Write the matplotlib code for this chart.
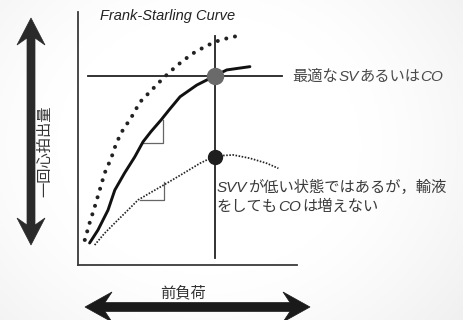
import numpy as np
import matplotlib
matplotlib.use("Agg")
import matplotlib.pyplot as plt
from matplotlib.patches import Polygon

# ---------------- data (preload 0-100, stroke volume 0-100) ----------------
solid_x = [5.3, 9.1, 13.7, 16.8, 21.3, 25.9, 29.7, 33.3, 37.9, 41.6, 46.6, 54.2, 62.6, 67.9, 78.5]
solid_y = [8.7, 13.8, 21.7, 29.6, 36.4, 42.7, 48.7, 52.7, 57.3, 61.3, 66.5, 71.1, 74.8, 77.1, 78.4]

upper_x = [3.1, 5.3, 7.6, 9.9, 12.2, 15.2, 17.5, 20.5, 24.2, 28.3, 32.9, 37.4, 42.0, 47.4,
           52.6, 58.8, 64.8, 70.9, 75.5]
upper_y = [9.9, 16.6, 22.9, 29.6, 36.4, 42.3, 48.2, 53.4, 58.1, 64.4, 68.5, 72.5, 76.4, 80.4,
           83.7, 86.7, 88.9, 90.2, 90.9]

lower_x = [7.6, 12.2, 16.8, 22.8, 27.4, 32.9, 40.5, 48.1, 55.7, 62.6, 70.9, 78.5, 86.2, 91.5]
lower_y = [7.9, 12.6, 16.6, 21.7, 25.7, 28.5, 32.3, 36.2, 40.2, 43.1, 43.5, 42.2, 40.2, 38.2]

opt_x, opt_y = 62.6, 74.8          # optimal SV / CO point
low_x, low_y = 62.6, 42.8          # low SVV point
hline_x = [4.6, 93.2]
vline_y = [2.8, 90.5]

tri1_x = [29.7, 38.8, 38.8]
tri1_y = [48.1, 48.1, 57.3]
tri2_x = [28.2, 39.3, 39.3]
tri2_y = [25.7, 25.7, 32.9]

title = "Frank-Starling Curve"
ylabel = "一回心拍出量"
xlabel = "前負荷"
label1 = [("最適な", False), ("SV", True), ("あるいは", False), ("CO", True)]
label2 = [("SVV", True), ("が低い状態ではあるが，輸液", False)]
label3 = [("をしても", False), ("CO", True), ("は増えない", False)]

W, H = 464, 320
fig = plt.figure(figsize=(W / 100, H / 100), dpi=100)

# background soft gradient
bg = fig.add_axes([0, 0, 1, 1], zorder=-10)
gx, gy = np.meshgrid(np.linspace(0, 1, 232), np.linspace(0, 1, 160))
r = np.sqrt(((gx - 0.45) / 0.6) ** 2 + ((gy - 0.45) / 0.75) ** 2)
val = 1.0 - 0.11 * np.clip(r - 0.55, 0, None) ** 1.3
bg.imshow(np.dstack([val, val, val]), extent=[0, 1, 0, 1], aspect="auto",
          interpolation="bilinear", vmin=0, vmax=1)
bg.set_axis_off()

ax = fig.add_axes([78 / W, (H - 265) / H, 219 / W, 253 / H])
ax.set_xlim(0, 100)
ax.set_ylim(0, 100)
ax.patch.set_alpha(0)
for s in ["top", "right"]:
    ax.spines[s].set_visible(False)
for s in ["left", "bottom"]:
    ax.spines[s].set_color("#3a3a3a")
    ax.spines[s].set_linewidth(1.3)
ax.set_xticks([])
ax.set_yticks([])

ax.plot(hline_x, [opt_y, opt_y], color="#222222", lw=1.3, zorder=2)
ax.plot([opt_x, opt_x], vline_y, color="#222222", lw=1.3, zorder=2)

ax.plot(upper_x, upper_y, color="#222222", lw=2.9, linestyle=(0, (0.01, 2.2)),
        dash_capstyle="round", solid_joinstyle="round", zorder=3)
ax.plot(solid_x, solid_y, color="#111111", lw=2.1, solid_capstyle="round",
        solid_joinstyle="round", zorder=3)
ax.plot(lower_x, lower_y, color="#222222", lw=1.25, linestyle=(0, (0.9, 0.9)), zorder=3)

ax.plot(tri1_x, tri1_y, color="#666666", lw=0.9, zorder=2)
ax.plot(tri2_x, tri2_y, color="#666666", lw=0.9, zorder=2)

ax.plot([opt_x], [opt_y], "o", color="#6a6a6a", markersize=11.5, zorder=5)
ax.plot([low_x], [low_y], "o", color="#1e1e1e", markersize=10, zorder=5)

latin = "Liberation Sans"
cjk = ["Noto Sans CJK JP", "DejaVu Sans"]

fig.text(100 / W, 1 - 16 / H, title, fontsize=10.5, style="italic",
         family=latin, color="#222222", ha="left", va="center")

fig.text(45 / W, 1 - 151 / H, ylabel, rotation=90, fontsize=11, family=cjk,
         color="#333333", ha="center", va="center")
fig.text(183 / W, 1 - 293 / H, xlabel, fontsize=11, family=cjk,
         color="#333333", ha="center", va="center")

renderer = fig.canvas.get_renderer()


def chain(pieces, x_px, base_px, color):
    x = x_px
    for txt, it in pieces:
        if it:
            t = fig.text(x / W, 1 - base_px / H, txt, fontsize=11, family=latin,
                         style="italic", color=color, ha="left", va="baseline")
        else:
            t = fig.text(x / W, 1 - base_px / H, txt, fontsize=11, family=cjk,
                         color=color, ha="left", va="baseline")
        bb = t.get_window_extent(renderer)
        x = bb.x1 + 0.5


chain(label1, 292, 81, "#4a4a4a")
chain(label2, 217, 192, "#3a3a3a")
chain(label3, 217, 211, "#3a3a3a")


def double_arrow(p0, p1, shaft, head_len, head_w, notch, color):
    p0 = np.array(p0, float)
    p1 = np.array(p1, float)
    d = p1 - p0
    L = np.hypot(*d)
    u = d / L
    n = np.array([-u[1], u[0]])
    pts = [
        p0,
        p0 + u * head_len + n * head_w / 2,
        p0 + u * (head_len - notch) + n * shaft / 2,
        p1 - u * (head_len - notch) + n * shaft / 2,
        p1 - u * head_len + n * head_w / 2,
        p1,
        p1 - u * head_len - n * head_w / 2,
        p1 - u * (head_len - notch) - n * shaft / 2,
        p0 + u * (head_len - notch) - n * shaft / 2,
        p0 + u * head_len - n * head_w / 2,
    ]
    pts = [(px / W, 1 - py / H) for px, py in pts]
    fig.add_artist(Polygon(pts, closed=True, transform=fig.transFigure,
                           facecolor=color, edgecolor=color, lw=0.5))


double_arrow((31, 18), (31, 245), 8, 27, 28, 7, "#2a2a2a")
double_arrow((85, 307), (310, 307), 9, 27, 30, 7, "#1a1a1a")

fig.savefig("out.png", dpi=100)
